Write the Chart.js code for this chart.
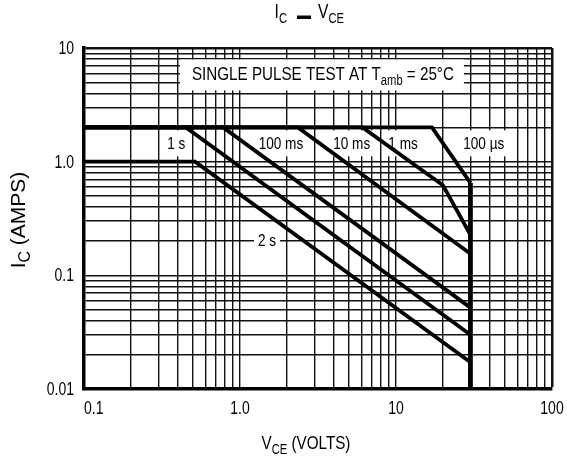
<!DOCTYPE html>
<html>
<head>
<meta charset="utf-8">
<style>
	html, body { margin: 0; padding: 0; background: #fff; }
	#wrap { width: 567px; height: 460px; }
</style>
<script src="https://cdn.jsdelivr.net/npm/chart.js@4.4.1/dist/chart.umd.min.js"></script>
</head>
<body>
<div id="wrap"><canvas id="soaChart" width="567" height="460"></canvas></div>
<script>
(function () {
	'use strict';

	// axis ranges and printed tick labels
	var vceMin = 0.1, vceMax = 100;
	var icMin = 0.01, icMax = 10;
	var vceTickValues = [0.1, 1, 10, 100];
	var vceTickLabels = ['0.1', '1.0', '10', '100'];
	var icTickValues = [0.01, 0.1, 1, 10];
	var icTickLabels = ['0.01', '0.1', '1.0', '10'];

	// pulse width curves: VCE breakpoints (volts) and IC at each (amps)
	var curveNames = ['2 s', '1 s', '100 ms', '10 ms', '1 ms', '100 µs'];
	var vce2s = [0.1, 0.515, 30];
	var ic2s = [1.0, 1.0, 0.0172];
	var vce1s = [0.1, 0.45, 30];
	var ic1s = [2.0, 2.0, 0.03];
	var vce100ms = [0.1, 0.78, 30];
	var ic100ms = [2.0, 2.0, 0.052];
	var vce10ms = [0.1, 2.35, 30];
	var ic10ms = [2.0, 2.0, 0.155];
	var vce1ms = [0.1, 6.1, 20, 30];
	var ic1ms = [2.0, 2.0, 0.62, 0.227];
	var vce100us = [0.1, 17, 30, 30];
	var ic100us = [2.0, 2.0, 0.65, 0.01];

	var FONT = "'Liberation Sans', Arial, sans-serif";
	var NARROW = 0.8; // horizontal squeeze, narrow face look

	function toPoints(vs, is) {
		return vs.map(function (v, k) {
			return { x: v, y: is[k] };
		});
	}

	// 1..9 per decade for the log grid
	function decadeTicks(min, max) {
		var out = [];
		for (var d = min; d < max * 0.999; d *= 10) {
			for (var k = 1; k < 10; k++) {
				out.push({ value: +(d * k).toPrecision(3) });
			}
		}
		out.push({ value: max });
		return out;
	}

	function runFont(r, size) {
		return (r[1] ? Math.round(size * 0.74) : size) + 'px ' + FONT;
	}

	function measureRuns(ctx, runs, size, sx) {
		var total = 0;
		runs.forEach(function (r) {
			ctx.font = runFont(r, size);
			total += ctx.measureText(r[0]).width * (sx || NARROW);
		});
		return total;
	}

	// draws [text, sub] runs side by side in the squeezed face
	function drawRuns(ctx, runs, x, y, size, align, sx) {
		sx = sx || NARROW;
		var total = measureRuns(ctx, runs, size, sx);
		var cx = align === 'center' ? x - total / 2 : (align === 'right' ? x - total : x);
		runs.forEach(function (r) {
			ctx.font = runFont(r, size);
			var w = ctx.measureText(r[0]).width * sx;
			ctx.save();
			ctx.translate(cx, r[1] ? y + size * 0.26 : y);
			ctx.scale(sx, 1);
			ctx.textAlign = 'left';
			ctx.textBaseline = 'alphabetic';
			ctx.fillText(r[0], 0, 0);
			ctx.restore();
			cx += w;
		});
		return total;
	}

	// pulse labels sit on white patches over the grid
	var curveLabels = [
		{ text: '1 s', x: 0.39, y: 1.45 },
		{ text: '100 ms', x: 1.83, y: 1.45 },
		{ text: '10 ms', x: 5.2, y: 1.45 },
		{ text: '1 ms', x: 11.1, y: 1.45 },
		{ text: '100 µs', x: 36.5, y: 1.45 },
		{ text: '2 s', x: 1.49, y: 0.205 }
	];

	var notesPlugin = {
		id: 'notes',
		beforeDatasetsDraw: function (chart) {
			var ctx = chart.ctx,
				xs = chart.scales.x,
				ys = chart.scales.y;
			ctx.save();

			// test condition box
			var cond = [['SINGLE PULSE TEST AT T', 0], ['amb', 1], [' = 25°C', 0]];
			var cx = xs.getPixelForValue(3.4),
				cy = ys.getPixelForValue(5.85);
			var w = measureRuns(ctx, cond, 19);
			ctx.fillStyle = '#fff';
			ctx.fillRect(cx - w / 2 - 12, cy - 15, w + 22, 31);
			ctx.fillStyle = '#000';
			drawRuns(ctx, cond, cx, cy + 6, 19, 'center');

			curveLabels.forEach(function (l) {
				var px = xs.getPixelForValue(l.x),
					py = ys.getPixelForValue(l.y);
				var tw = measureRuns(ctx, [[l.text, 0]], 17);
				ctx.fillStyle = '#fff';
				ctx.fillRect(px - tw / 2 - 4, py - 13, tw + 8, 26);
				ctx.fillStyle = '#000';
				drawRuns(ctx, [[l.text, 0]], px, py + 6, 17, 'center');
			});
			ctx.restore();
		},
		afterDraw: function (chart) {
			var ctx = chart.ctx,
				xs = chart.scales.x,
				ys = chart.scales.y,
				area = chart.chartArea;
			ctx.save();
			ctx.fillStyle = '#000';

			// tick labels, first VCE label kept inside the frame
			vceTickValues.forEach(function (v, k) {
				drawRuns(ctx, [[vceTickLabels[k], 0]], xs.getPixelForValue(v), area.bottom + 25, 17.5, k === 0 ? 'left' : 'center');
			});
			icTickValues.forEach(function (v, k) {
				drawRuns(ctx, [[icTickLabels[k], 0]], area.left - 10, ys.getPixelForValue(v) + 6, 17.5, 'right');
			});

			// titles
			drawRuns(ctx, [['I', 0], ['C', 1]], 287, 17.5, 19.5, 'right');
			ctx.fillRect(297, 15.5, 14, 3.5);
			drawRuns(ctx, [['V', 0], ['CE', 1]], 318, 17.5, 19.5, 'left');

			drawRuns(ctx, [['V', 0], ['CE', 1], [' (VOLTS)', 0]], 306, 449, 19, 'center');

			ctx.translate(25, 220);
			ctx.rotate(-Math.PI / 2);
			drawRuns(ctx, [['I', 0], ['C', 1], [' (AMPS)', 0]], 0, 0, 21, 'center', 1);
			ctx.restore();
		}
	};

	var sets = [
		[vce2s, ic2s], [vce1s, ic1s], [vce100ms, ic100ms],
		[vce10ms, ic10ms], [vce1ms, ic1ms], [vce100us, ic100us]
	];

	new Chart(document.getElementById('soaChart'), {
		type: 'scatter',
		data: {
			datasets: sets.map(function (s, k) {
				return {
					label: curveNames[k],
					data: toPoints(s[0], s[1]),
					showLine: true,
					borderColor: '#000',
					borderWidth: 3.8,
					borderCapStyle: 'butt',
					borderJoinStyle: 'miter',
					pointRadius: 0,
					tension: 0,
					segment: {
						borderWidth: function (c) {
							return c.p0.parsed.x === c.p1.parsed.x ? 4.8 : 3.8;
						}
					}
				};
			})
		},
		options: {
			responsive: false,
			animation: false,
			devicePixelRatio: 1,
			layout: { padding: { top: 48, right: 15, left: 0, bottom: 0 } },
			plugins: {
				legend: { display: false },
				tooltip: { enabled: false },
				title: { display: false }
			},
			scales: {
				x: {
					type: 'logarithmic',
					min: vceMin,
					max: vceMax,
					afterBuildTicks: function (scale) {
						scale.ticks = decadeTicks(vceMin, vceMax);
					},
					afterFit: function (scale) {
						scale.height = 71;
					},
					ticks: { display: false, autoSkip: false },
					grid: {
						color: '#111',
						lineWidth: function (c) {
							return c.tick && c.tick.value === vceMax ? 2.5 : 1.4;
						},
						drawTicks: false
					},
					border: { display: true, color: '#000', width: 3.5 }
				},
				y: {
					type: 'logarithmic',
					min: icMin,
					max: icMax,
					afterBuildTicks: function (scale) {
						scale.ticks = decadeTicks(icMin, icMax);
					},
					afterFit: function (scale) {
						scale.width = 84;
					},
					ticks: { display: false, autoSkip: false },
					grid: {
						color: '#111',
						lineWidth: function (c) {
							return c.tick && c.tick.value === icMax ? 2.5 : 1.4;
						},
						drawTicks: false
					},
					border: { display: true, color: '#000', width: 3.5 }
				}
			}
		},
		plugins: [notesPlugin]
	});
})();
</script>
</body>
</html>
